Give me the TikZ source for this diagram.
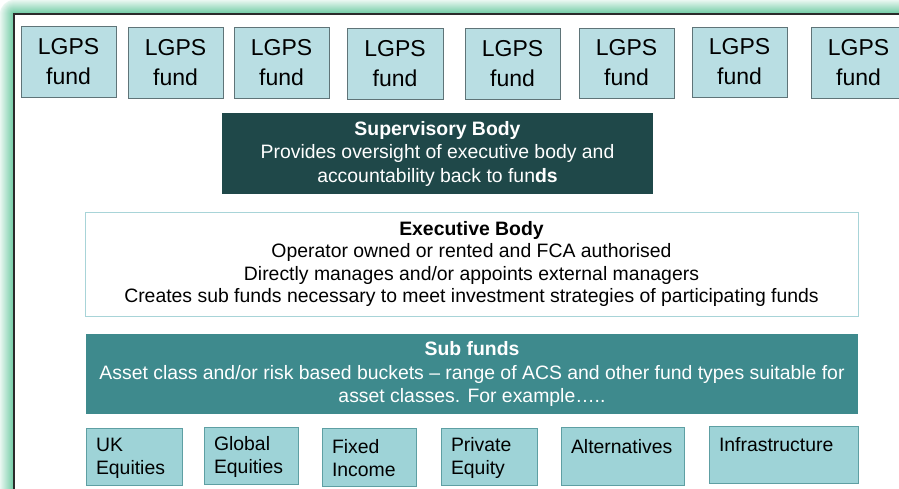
\documentclass[tikz,border=0pt]{standalone}
\usepackage{fontspec}
\setmainfont{Liberation Sans}
\definecolor{glowgreen}{HTML}{5CC497}
\definecolor{framec}{HTML}{2B2B2B}
\definecolor{lgpsfill}{HTML}{B9DEE3}
\definecolor{lgpsdraw}{HTML}{5F7478}
\definecolor{supfill}{HTML}{1F4849}
\definecolor{exdraw}{HTML}{A8D4D8}
\definecolor{subfill}{HTML}{3E8A8D}
\definecolor{assetfill}{HTML}{9ED3D7}
\definecolor{assetdraw}{HTML}{5E9FA3}
\tikzset{
  lgps/.style={draw=lgpsdraw, fill=lgpsfill, line width=0.8pt, inner sep=0pt,
    minimum width=95pt, minimum height=71pt, align=center,
    font=\fontsize{23}{30}\selectfont},
  supbox/.style={fill=supfill, text=white, inner sep=0pt, align=center,
    minimum width=431pt, minimum height=81pt,
    font=\fontsize{19.4}{23.5}\selectfont},
  exbox/.style={draw=exdraw, fill=white, line width=0.8pt, inner sep=0pt, align=center,
    minimum width=773pt, minimum height=104pt,
    font=\fontsize{19.4}{22.5}\selectfont},
  subbox/.style={fill=subfill, text=white, inner sep=0pt, align=center,
    minimum width=772pt, minimum height=80pt,
    font=\fontsize{19.4}{23.5}\selectfont},
  asset/.style={draw=assetdraw, fill=assetfill, line width=0.8pt, inner xsep=10pt,
    inner ysep=0pt, minimum height=57pt, align=left,
    font=\fontsize{19.4}{23}\selectfont}
}
\begin{document}
\begin{tikzpicture}[x=1pt,y=-1pt]
\useasboundingbox (0,0) rectangle (899,488);
\clip (0,0) rectangle (899,488);
\fill[white] (0,0) rectangle (899,488);
% glow
\foreach \i [evaluate=\i as \p using 85-(\i-1)*5.5] in {14,13,...,1}
  {\fill[glowgreen!\p!white, rounded corners=\i pt] (14-\i,14-\i) rectangle (940,530);}
\fill[white] (14,14) rectangle (940,530);
\draw[line width=2.4pt, draw=framec] (14,14) rectangle (940,530);
% LGPS funds
\node[lgps] (f1) at (68.5,61.5) {LGPS\\fund};
\node[lgps] (f2) at (175.5,62.5) {LGPS\\fund};
\node[lgps] (f3) at (281.5,62.5) {LGPS\\fund};
\node[lgps, minimum width=96pt] (f4) at (395,63.5) {LGPS\\fund};
\node[lgps] (f5) at (512.5,63.5) {LGPS\\fund};
\node[lgps, minimum height=70pt] (f6) at (626.5,63) {LGPS\\fund};
\node[lgps, minimum height=70pt] (f7) at (739.5,62) {LGPS\\fund};
\node[lgps] (f8) at (858.5,62.5) {LGPS\\fund};
% Supervisory
\node[supbox] (sup) at (437.5,153.5) {\textbf{Supervisory Body}\\Provides oversight of executive body and\\accountability back to fun\textbf{ds}};
% Executive
\node[exbox] (exec) at (471.5,264) {\textbf{Executive Body}\\Operator owned or rented and FCA authorised\\Directly manages and/or appoints external managers\\Creates sub funds necessary to meet investment strategies of participating funds};
% Sub funds
\node[subbox] (sub) at (472,374) {\textbf{Sub funds}\\Asset class and/or risk based buckets \textendash{} range of ACS and other fund types suitable for\\asset classes. For example\dots..};
% asset classes
\node[asset, text width=76pt] (uk) at (134,456.5) {\rule{0pt}{17pt}UK\\Equities};
\node[asset, text width=74pt] (glob) at (251,455.5) {\rule{0pt}{17pt}Global\\Equities};
\node[asset, text width=74pt, minimum height=58pt] (fix) at (369,457) {\rule{0pt}{17pt}Fixed\\Income};
\node[asset, text width=76pt] (priv) at (489,456.5) {\rule{0pt}{17pt}Private\\Equity};
\node[asset, text width=103pt, minimum height=58pt] (alt) at (622.5,456) {\rule{0pt}{17pt}Alternatives\\\mbox{}};
\node[asset, text width=129pt] (infra) at (783.5,455) {\rule{0pt}{15pt}Infrastructure\\\mbox{}};
\end{tikzpicture}
\end{document}
